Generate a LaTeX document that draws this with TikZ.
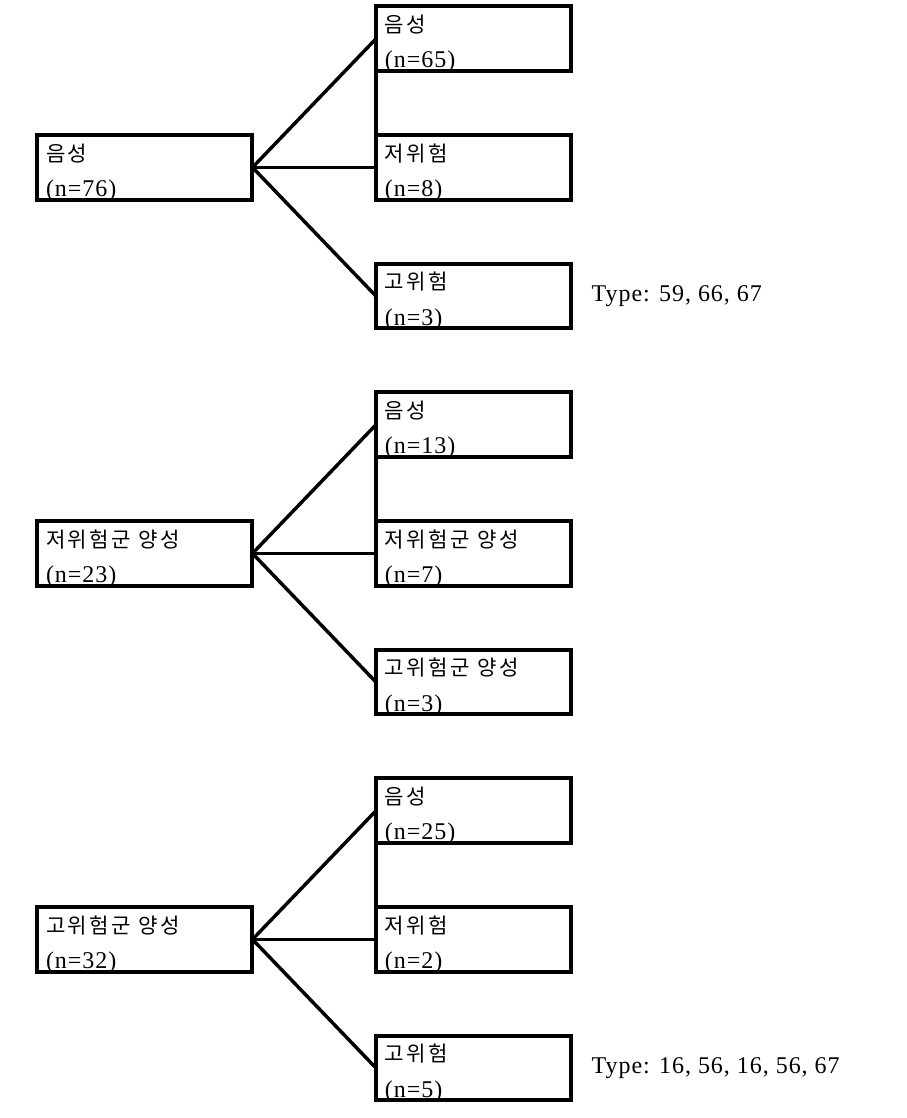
\documentclass[tikz,border=0pt]{standalone}
\usepackage{fontspec}
\setmainfont{Liberation Serif}[LetterSpace=4]
\newfontfamily\krfont{Noto Sans CJK KR}[Scale=0.88, LetterSpace=11, WordSpace=14]

\begin{document}
\begin{tikzpicture}[x=0.75pt, y=-0.75pt, line width=2.6pt,
		every node/.style={font=\fontsize{18}{26.5}\selectfont},
		box/.style={draw, line width=3pt, outer sep=0pt, inner xsep=6.75pt, inner ysep=0pt,
			align=left, text height=19.5pt, text depth=28.9pt},
		wide/.style={box, text width=148.1pt},
		narrow/.style={box, text width=132.4pt},
		typelabel/.style={anchor=west, inner sep=0pt}]
		\useasboundingbox (0,0) rectangle (907,1118);
		% negative
		\node (neg) [wide] at (144.75,167.4) {{\krfont 음성}\\(n=76)};
		\node (negneg) [narrow] at (473.25,38.75) {{\krfont 음성}\\(n=65)};
		\node (neglow) [narrow] at (473.25,167.4) {{\krfont 저위험}\\(n=8)};
		\node (neghigh) [narrow] at (473.25,296.1) {{\krfont 고위험}\\(n=3)};
		\node (negtype) [typelabel] at (590,296.1) {Type: 59, 66, 67};
		% low risk positive
		\node (low) [wide] at (144.75,553.4) {{\krfont 저위험군 양성}\\(n=23)};
		\node (lowneg) [narrow] at (473.25,424.7) {{\krfont 음성}\\(n=13)};
		\node (lowlow) [narrow] at (473.25,553.4) {{\krfont 저위험군 양성}\\(n=7)};
		\node (lowhigh) [narrow] at (473.25,682.1) {{\krfont 고위험군 양성}\\(n=3)};
		% high risk positive
		\node (high) [wide] at (144.75,939.4) {{\krfont 고위험군 양성}\\(n=32)};
		\node (highneg) [narrow] at (473.25,810.7) {{\krfont 음성}\\(n=25)};
		\node (highlow) [narrow] at (473.25,939.4) {{\krfont 저위험}\\(n=2)};
		\node (highhigh) [narrow] at (473.25,1068) {{\krfont 고위험}\\(n=5)};
		\node (hightype) [typelabel] at (590,1068) {Type: 16, 56, 16, 56, 67};

		\draw (neg.east) -- (negneg.west);
		\draw (neg.east) -- (neglow.west);
		\draw (neg.east) -- (neghigh.west);
		\draw [line width=3pt] (negneg.south west) -- (neglow.north west);

		\draw (low.east) -- (lowneg.west);
		\draw (low.east) -- (lowlow.west);
		\draw (low.east) -- (lowhigh.west);
		\draw [line width=3pt] (lowneg.south west) -- (lowlow.north west);

		\draw (high.east) -- (highneg.west);
		\draw (high.east) -- (highlow.west);
		\draw (high.east) -- (highhigh.west);
		\draw [line width=3pt] (highneg.south west) -- (highlow.north west);
\end{tikzpicture}
\end{document}
